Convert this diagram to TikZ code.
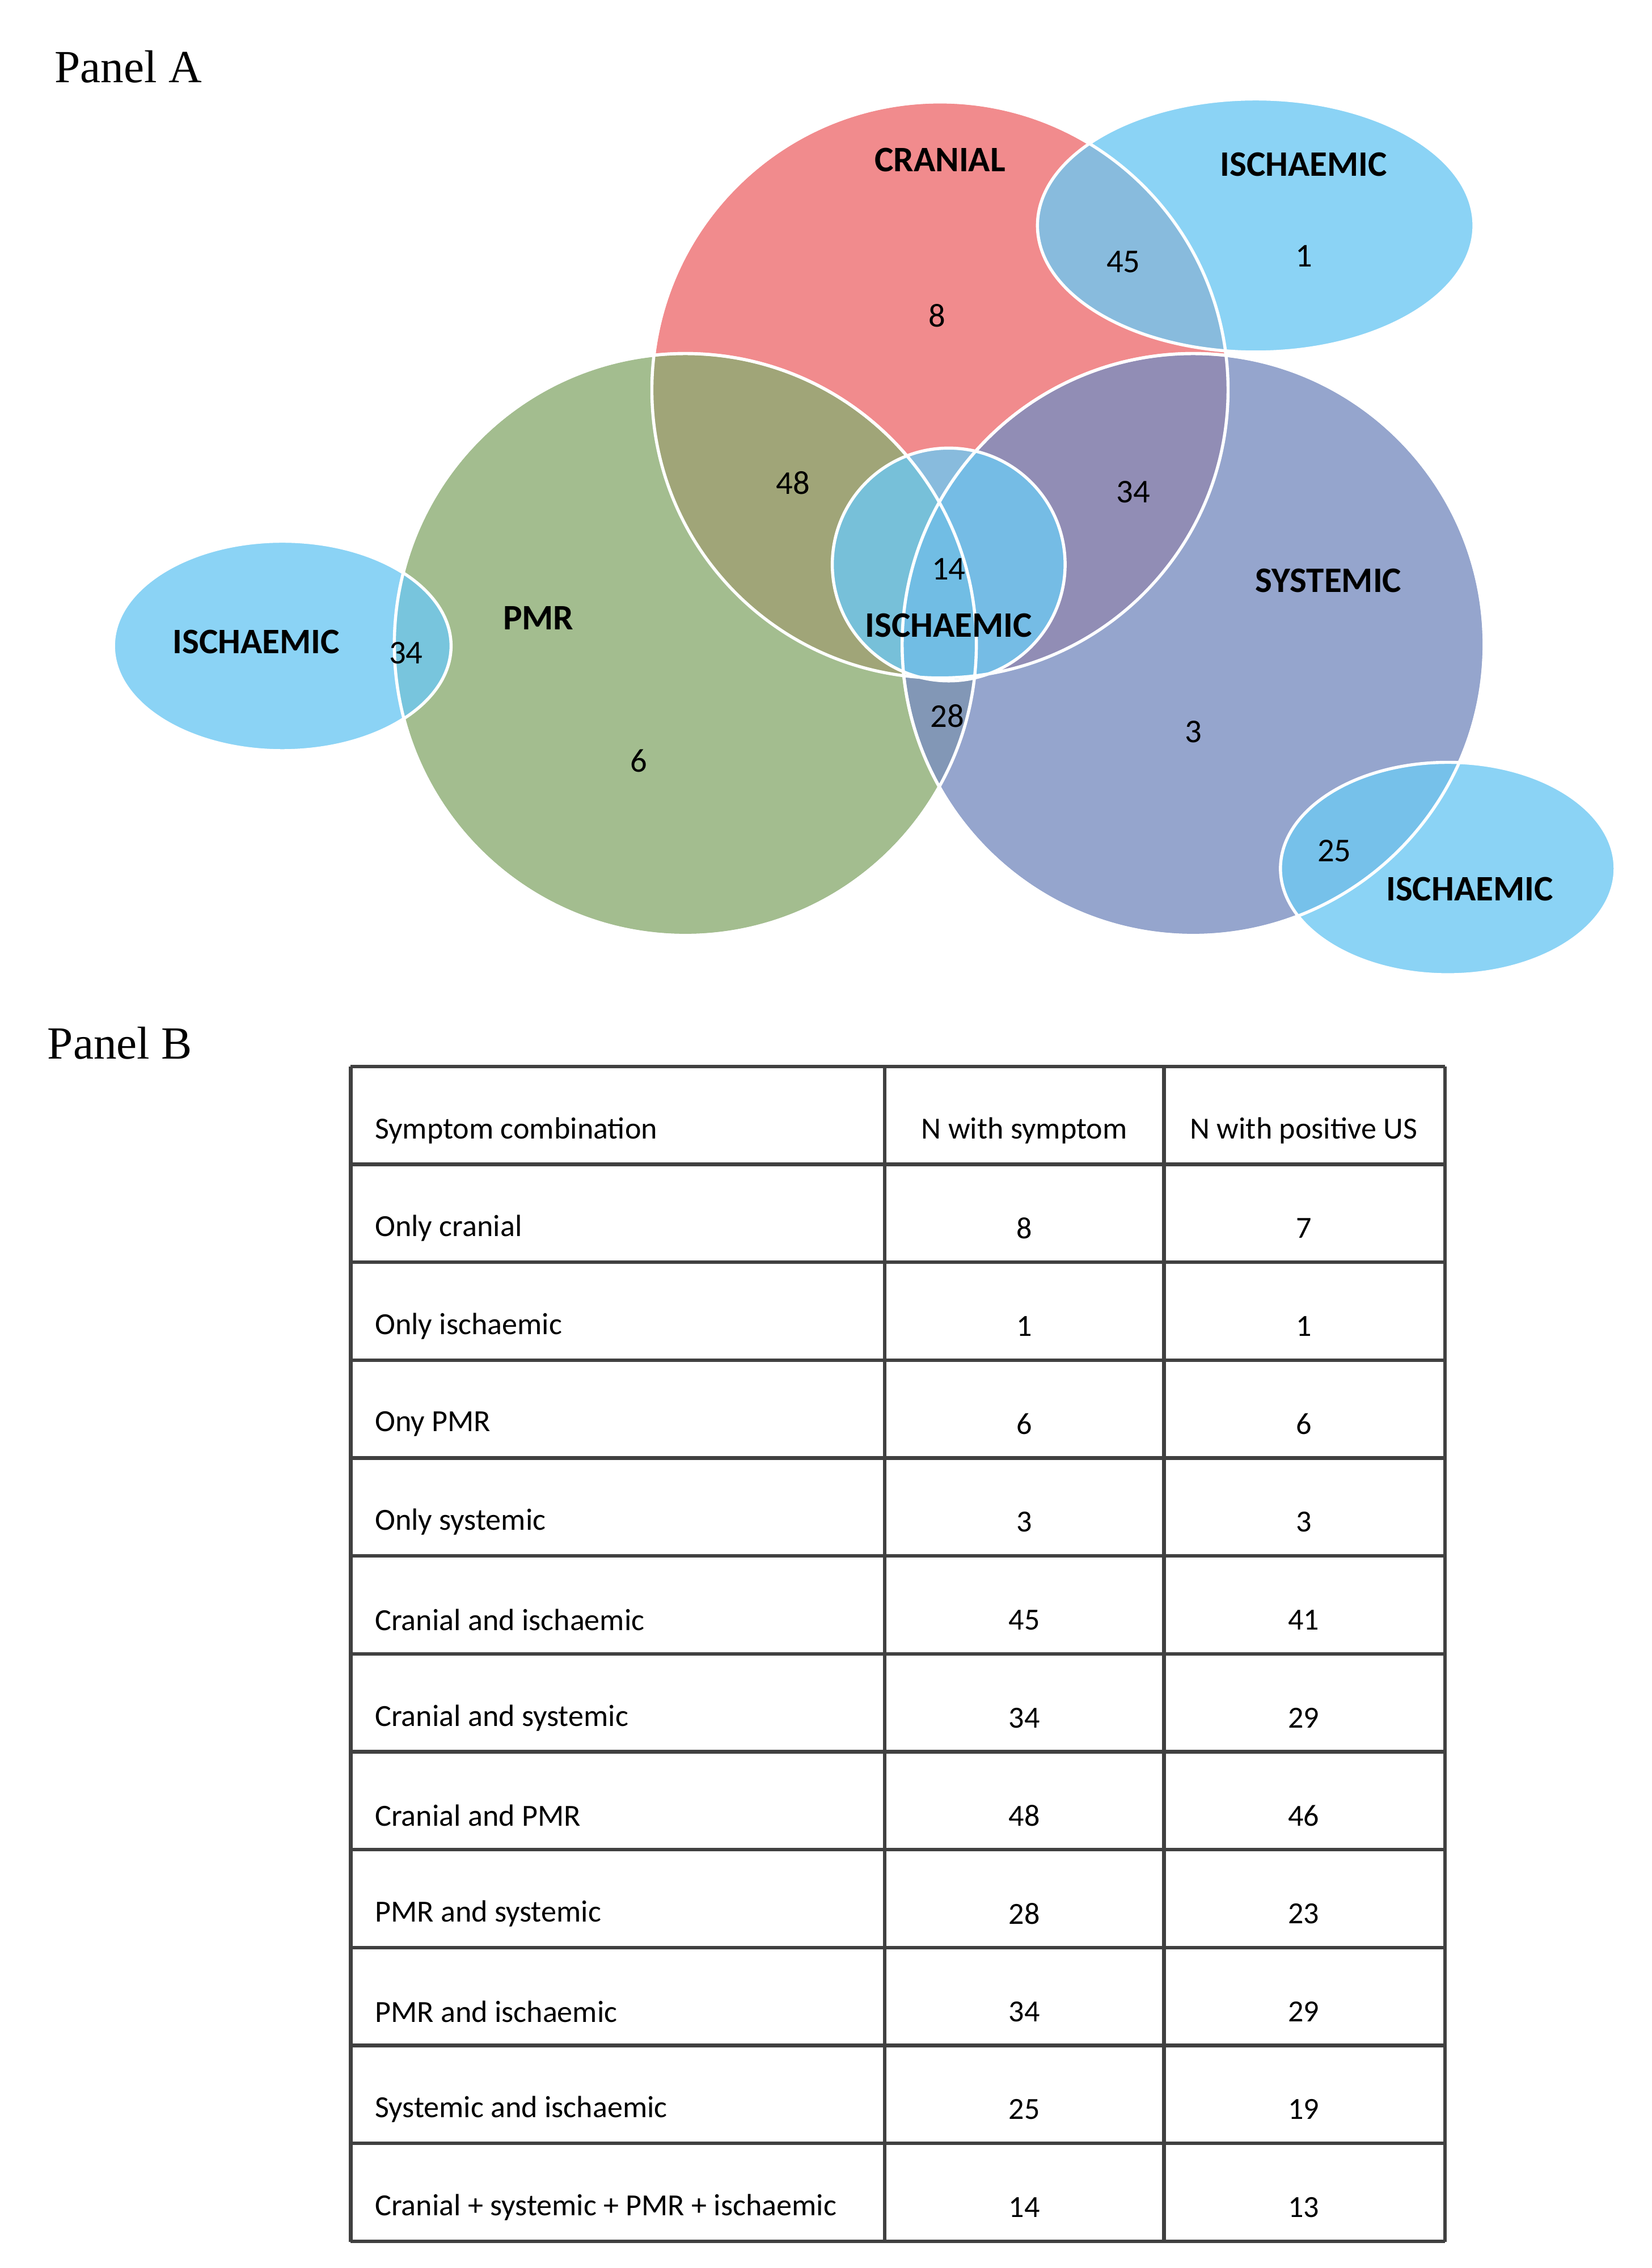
\documentclass[tikz,border=0pt]{standalone}
\usepackage{fontspec}
\setmainfont{Carlito}
\newfontfamily\panelfont{Liberation Serif}
\usetikzlibrary{calc}
\definecolor{cranialred}{RGB}{238,110,112}
\definecolor{pmrgreen}{RGB}{140,172,115}
\definecolor{sysblue}{RGB}{122,142,192}
\definecolor{ischblue}{RGB}{110,200,242}
\tikzset{
  set/.style={draw=white, line width=0.6pt, fill opacity=0.8},
  lab/.style={font=\fontsize{7}{8}\selectfont\bfseries, inner sep=0pt},
  num/.style={font=\fontsize{6.5}{8}\selectfont, inner sep=0pt},
  cell/.style={font=\fontsize{6}{8}\selectfont, inner sep=0pt},
  panel/.style={font=\panelfont\fontsize{9}{10}\selectfont, inner sep=0pt}
}
\begin{document}
\begin{tikzpicture}[x=0.01cm,y=-0.01cm]
\useasboundingbox (0,0) rectangle (1135,1559);

% Panel A: the Venn sets
\fill[set, fill=cranialred] (646,268) circle (198);
\fill[set, fill=pmrgreen] (471,443) circle (200);
\fill[set, fill=sysblue] (820,443) circle (200);
\draw[set, fill=ischblue] (863,155) ellipse (150 and 87);
\draw[set, fill=ischblue] (194,444) ellipse (116 and 72);
\draw[set, fill=ischblue] (995,597) ellipse (115 and 73);
\draw[set, fill=ischblue] (652,388) circle (80);
\draw[white, line width=0.6pt] (646,268) circle (198) (471,443) circle (200) (820,443) circle (200);

\node[panel, anchor=west] (pa) at (37,46) {Panel A};
\node[lab] (cran) at (646,110) {CRANIAL};
\node[lab] (isch1) at (896,113) {ISCHAEMIC};
\node[lab] (isch2) at (652,430) {ISCHAEMIC};
\node[lab] (isch3) at (176,441) {ISCHAEMIC};
\node[lab] (isch4) at (1010,611) {ISCHAEMIC};
\node[lab] (syst) at (913,399) {SYSTEMIC};
\node[lab] (pmr) at (370,425) {PMR};
\node[num] (n1) at (896,176) {1};
\node[num] (n45) at (772,180) {45};
\node[num] (n8) at (644,217) {8};
\node[num] (n48) at (545,332) {48};
\node[num] (n34a) at (779,338) {34};
\node[num] (n14) at (652,391) {14};
\node[num] (n34b) at (279,449) {34};
\node[num] (n6) at (439,523) {6};
\node[num] (n28) at (651,492) {28};
\node[num] (n3) at (820,503) {3};
\node[num] (n25) at (917,585) {25};

% Panel B: the table
\node[panel, anchor=west] (pb) at (32,717) {Panel B};
\foreach \i in {0,...,12}
  \draw[black!75, line width=0.7pt] (241,733+67.3*\i) -- (993,733+67.3*\i);
\foreach \x in {241,608,800,993}
  \draw[black!75, line width=0.7pt] (\x,733) -- (\x,1541);
\foreach [count=\i from 0] \t/\a/\b in {
  Symptom combination/N with symptom/N with positive US,
  Only cranial/8/7, Only ischaemic/1/1, Ony PMR/6/6, Only systemic/3/3,
  Cranial and ischaemic/45/41, Cranial and systemic/34/29,
  Cranial and PMR/48/46, PMR and systemic/28/23,
  PMR and ischaemic/34/29, Systemic and ischaemic/25/19,
  Cranial + systemic + PMR + ischaemic/14/13}
{
  \node[cell, anchor=west] (r\i a) at (257,777+67.3*\i) {\t};
  \node[cell] (r\i b) at (704,777+67.3*\i) {\a};
  \node[cell] (r\i c) at (896,777+67.3*\i) {\b};
}
\end{tikzpicture}
\end{document}
